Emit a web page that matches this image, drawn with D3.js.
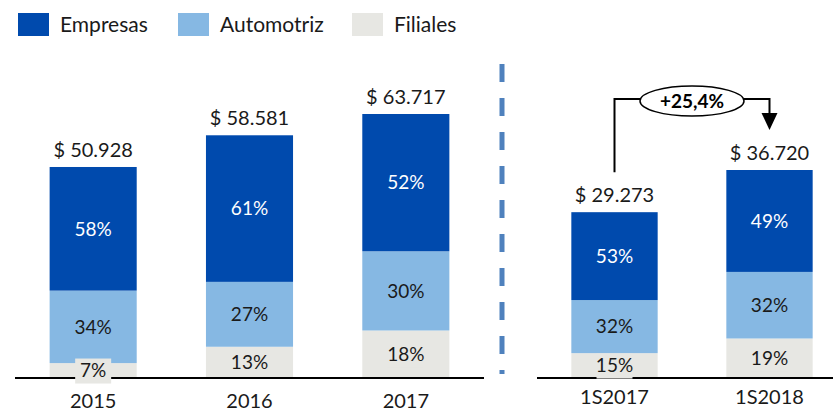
<!DOCTYPE html>
<html>
<head>
<meta charset="utf-8">
<script src="https://cdnjs.cloudflare.com/ajax/libs/d3/7.8.5/d3.min.js"></script>
<style>
    body { margin: 0; background: #fff; }
    svg { font-family: Lato, "Open Sans", sans-serif; }
    .axis-line { stroke: #000; stroke-width: 2; }
</style>
</head>
<body>
<svg id="chart" width="833" height="411"></svg>
<script>

// Global var for the credit data (values in millions, shares in %)
var annualData = [
    {period: "2015", total: 50.928, label: "$ 50.928", empresas: 58, automotriz: 34, filiales: 7},
    {period: "2016", total: 58.581, label: "$ 58.581", empresas: 61, automotriz: 27, filiales: 13},
    {period: "2017", total: 63.717, label: "$ 63.717", empresas: 52, automotriz: 30, filiales: 18}
];

var semesterData = [
    {period: "1S2017", total: 29.273, label: "$ 29.273", empresas: 53, automotriz: 32, filiales: 15},
    {period: "1S2018", total: 36.720, label: "$ 36.720", empresas: 49, automotriz: 32, filiales: 19}
];

var keys = ["empresas", "automotriz", "filiales"];
// filiales sits on the baseline, empresas on top
var stackOrder = ["filiales", "automotriz", "empresas"];
var names = {empresas: "Empresas", automotriz: "Automotriz", filiales: "Filiales"};
var colors = {empresas: "#004AAD", automotriz: "#86B8E3", filiales: "#E7E7E3"};
var labelColors = {empresas: "#ffffff", automotriz: "#1a1a1a", filiales: "#1a1a1a"};

var svg = d3.select("#chart");
var baseY = 378;

/**
 * Draw one panel of stacked bars
 */
function drawPanel(data, xRange, topY, yearLabelY) {

    var xScale = d3.scaleBand()
        .domain(data.map(function (d) { return d.period; }))
        .range(xRange)
        .paddingInner(0.443)
        .paddingOuter(0.2215);

    var yScale = d3.scaleLinear()
        .domain([0, d3.max(data, function (d) { return d.total; })])
        .range([baseY, topY]);

    var g = svg.append("g");

    // build the segments: stacked on the share of each total
    var segments = [];
    data.forEach(function (d) {
        var sum = d3.sum(keys, function (k) { return d[k]; });
        var acc = 0;
        stackOrder.forEach(function (k) {
            segments.push({
                period: d.period,
                key: k,
                pct: d[k],
                y0: acc / sum * d.total,
                y1: (acc + d[k]) / sum * d.total
            });
            acc += d[k];
        });
    });

    g.selectAll("rect.seg")
        .data(segments)
        .enter()
        .append("rect")
        .attr("class", "seg")
        .attr("x", function (d) { return xScale(d.period); })
        .attr("width", xScale.bandwidth())
        .attr("y", function (d) { return yScale(d.y1); })
        .attr("height", function (d) { return yScale(d.y0) - yScale(d.y1); })
        .attr("fill", function (d) { return colors[d.key]; });

    // axis baseline
    g.append("line")
        .attr("class", "axis-line")
        .attr("x1", xRange[0])
        .attr("x2", Math.min(xRange[1], 833))
        .attr("y1", baseY)
        .attr("y2", baseY);

    // percent labels (filiales with a backing box, it can be thin)
    var labels = g.selectAll("g.pct")
        .data(segments)
        .enter()
        .append("g")
        .attr("class", "pct")
        .attr("transform", function (d) {
            var cy = (yScale(d.y0) + yScale(d.y1)) / 2;
            return "translate(" + (xScale(d.period) + xScale.bandwidth() / 2) + "," + cy + ")";
        });

    labels.filter(function (d) { return d.key === "filiales"; })
        .append("rect")
        .attr("x", -18)
        .attr("y", -12)
        .attr("width", 36)
        .attr("height", 25)
        .attr("fill", colors.filiales);

    labels.append("text")
        .attr("text-anchor", "middle")
        .attr("dy", "0.36em")
        .attr("font-size", 19)
        .attr("fill", function (d) { return labelColors[d.key]; })
        .text(function (d) { return d.pct + "%"; });

    // totals above bars
    g.selectAll("text.total")
        .data(data)
        .enter()
        .append("text")
        .attr("class", "total")
        .attr("text-anchor", "middle")
        .attr("font-size", 20)
        .attr("fill", "#1a1a1a")
        .attr("x", function (d) { return xScale(d.period) + xScale.bandwidth() / 2; })
        .attr("y", function (d) { return yScale(d.total) - 10; })
        .text(function (d) { return d.label; });

    // period labels
    g.selectAll("text.period")
        .data(data)
        .enter()
        .append("text")
        .attr("class", "period")
        .attr("text-anchor", "middle")
        .attr("font-size", 20)
        .attr("fill", "#1a1a1a")
        .attr("x", function (d) { return xScale(d.period) + xScale.bandwidth() / 2; })
        .attr("y", yearLabelY)
        .text(function (d) { return d.period; });

    return {x: xScale, y: yScale};
}

var left = drawPanel(annualData, [15, 484], 114, 408);
var right = drawPanel(semesterData, [537, 847], 170, 404);

// dashed divider between the panels
svg.append("line")
    .attr("x1", 502)
    .attr("x2", 502)
    .attr("y1", 64)
    .attr("y2", 374)
    .attr("stroke", "#4F81BD")
    .attr("stroke-width", 5)
    .attr("stroke-dasharray", "18,16");

// growth annotation between the semesters
var a = semesterData[0], b = semesterData[1];
var ax = right.x(a.period) + right.x.bandwidth() / 2,
    bx = right.x(b.period) + right.x.bandwidth() / 2,
    ay = right.y(a.total) - 40,
    by = right.y(b.total) - 40,
    topLine = 99,
    mid = (ax + bx) / 2;

var growth = (b.total / a.total - 1) * 100;

svg.append("path")
    .attr("d", "M" + ax + "," + ay + "V" + topLine + "H" + bx + "V" + (by - 16))
    .attr("fill", "none")
    .attr("stroke", "#000")
    .attr("stroke-width", 2);

svg.append("path")
    .attr("d", "M" + (bx - 8) + "," + (by - 17) + "L" + (bx + 8) + "," + (by - 17) + "L" + bx + "," + by + "Z")
    .attr("fill", "#000");

svg.append("ellipse")
    .attr("cx", mid)
    .attr("cy", topLine + 2)
    .attr("rx", 52)
    .attr("ry", 15)
    .attr("fill", "#fff")
    .attr("stroke", "#000")
    .attr("stroke-width", 1.5);

svg.append("text")
    .attr("x", mid)
    .attr("y", topLine + 2)
    .attr("dy", "0.36em")
    .attr("text-anchor", "middle")
    .attr("font-size", 19)
    .attr("font-weight", "bold")
    .attr("fill", "#000")
    .text("+" + growth.toFixed(1).replace(".", ",") + "%");

// legend
var legendX = [18, 178, 352];
var legend = svg.selectAll("g.legend")
    .data(keys)
    .enter()
    .append("g")
    .attr("class", "legend")
    .attr("transform", function (d, i) { return "translate(" + legendX[i] + ",13)"; });

legend.append("rect")
    .attr("width", 31)
    .attr("height", 23)
    .attr("fill", function (d) { return colors[d]; });

legend.append("text")
    .attr("x", 42)
    .attr("y", 19)
    .attr("font-size", 21)
    .attr("fill", "#1a1a1a")
    .text(function (d) { return names[d]; });

</script>
</body>
</html>
